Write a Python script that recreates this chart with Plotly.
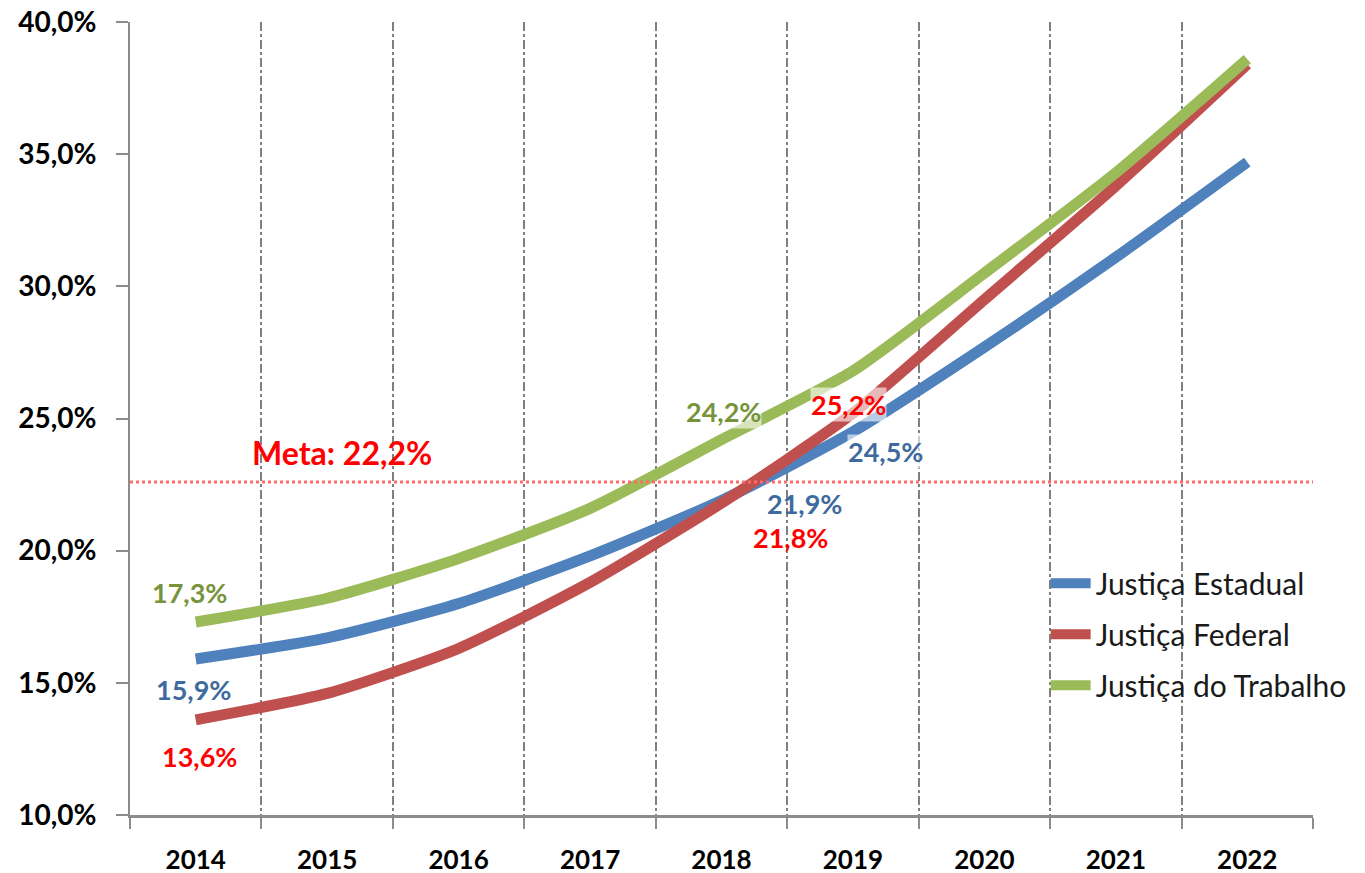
import plotly.graph_objects as go

anos = ['2014', '2015', '2016', '2017', '2018', '2019', '2020', '2021', '2022']
estadual = [15.9, 16.7, 18.0, 19.8, 21.9, 24.5, 27.7, 31.1, 34.7]
federal = [13.6, 14.6, 16.3, 18.8, 21.8, 25.2, 29.5, 33.8, 38.4]
trabalho = [17.3, 18.2, 19.7, 21.6, 24.2, 26.8, 30.5, 34.3, 38.6]
meta = 22.6
meta_texto = 'Meta: 22,2%'
y_ticks = [10, 15, 20, 25, 30, 35, 40]
y_ticktext = ['10,0%', '15,0%', '20,0%', '25,0%', '30,0%', '35,0%', '40,0%']

series = [
    ('Justiça Estadual', estadual, '#4F81BD', '#3E6A9E'),
    ('Justiça Federal', federal, '#C0504D', '#FF0000'),
    ('Justiça do Trabalho', trabalho, '#9BBB59', '#77933C'),
]

FONT = 'Lato, Open Sans, sans-serif'

fig = go.Figure()
for i, (name, vals, col, _) in enumerate(series):
    fig.add_trace(go.Scatter(
        x=anos, y=vals, name=name, mode='lines',
        line=dict(color=col, width=11, shape='spline', smoothing=0.6),
        legendgroup=f'g{i}',
    ))

def fmt(v):
    return f'{v:.1f}'.replace('.', ',') + '%'

# (series index, year index, xshift, yshift, background)
label_specs = [
    (2, 0, -6, 30, False),
    (0, 0, -2, -30, False),
    (1, 0, 4, -37, False),
    (2, 4, 2, 28, True),
    (1, 5, -4, 9, True),
    (0, 5, 33, -20, True),
    (0, 4, 83, -3, False),
    (1, 4, 69, -34, False),
]
for si, yi, dx, dy, bg in label_specs:
    name, vals, col, tcol = series[si]
    kw = dict(bgcolor='rgba(255,255,255,0.6)') if bg else {}
    fig.add_annotation(
        x=yi, y=vals[yi], xref='x', yref='y', text=fmt(vals[yi]),
        showarrow=False, xshift=dx, yshift=dy, xanchor='center', yanchor='middle',
        font=dict(family=FONT, size=27, color=tcol, weight='bold'),
        borderpad=0, **kw,
    )

fig.add_shape(type='line', xref='paper', x0=0, x1=1, yref='y', y0=meta, y1=meta,
              line=dict(color='#FF6B6B', width=3, dash='dot'))
fig.add_annotation(x=0.179, xref='paper', y=meta, yref='y', yshift=29, text=meta_texto,
                   showarrow=False, xanchor='center', yanchor='middle',
                   font=dict(family=FONT, size=32, color='#FF0000', weight='bold'))

# page body has an 8px default margin; margins compensate for it
fig.update_layout(
    width=1365, height=873,
    margin=dict(l=122, r=60, t=14, b=66, autoexpand=False),
    paper_bgcolor='white', plot_bgcolor='white',
    showlegend=True,
    legend=dict(x=0.774, y=0.325, xanchor='left', yanchor='top',
                font=dict(family=FONT, size=30, color='#1a1a1a'),
                bgcolor='rgba(0,0,0,0)', tracegroupgap=9, itemwidth=40),
)
fig.update_xaxes(
    type='category', range=[-0.5, 8.5], automargin=False,
    showline=True, linecolor='#8c8c8c', linewidth=3,
    ticks='outside', ticklen=11, tickcolor='#8c8c8c', tickwidth=2,
    tickson='boundaries',
    showgrid=True, gridcolor='#7f7f7f', gridwidth=1.5, griddash='dashdot',
    tickfont=dict(family=FONT, size=26, color='black', weight='bold'),
    ticklabelstandoff=20,
    zeroline=False,
)
fig.update_yaxes(
    range=[10, 40], tickvals=y_ticks, ticktext=y_ticktext, automargin=False,
    showline=True, linecolor='#8c8c8c', linewidth=2,
    ticks='outside', ticklen=12, tickcolor='#8c8c8c', tickwidth=2,
    showgrid=False, zeroline=False,
    tickfont=dict(family=FONT, size=28, color='black', weight='bold'),
    ticklabelstandoff=14, ticklabeloverflow='allow',
)

fig.write_html('out.html')
